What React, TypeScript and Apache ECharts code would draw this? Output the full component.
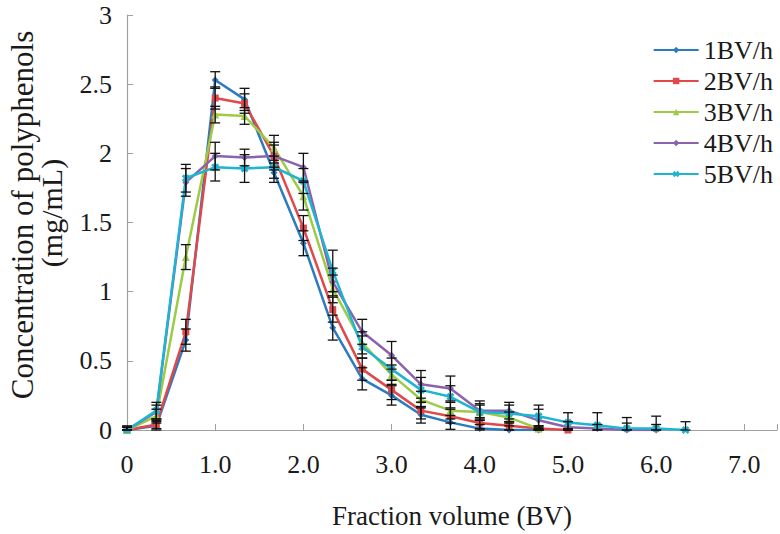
import React, { useEffect, useRef } from "react";
import * as echarts from "echarts";

const fractionBV = [0, 0.333, 0.667, 1.0, 1.333, 1.667, 2.0, 2.333, 2.667, 3.0, 3.333, 3.667, 4.0, 4.333, 4.667, 5.0, 5.333, 5.667, 6.0, 6.333];

const seriesNames = ["1BV/h", "2BV/h", "3BV/h", "4BV/h", "5BV/h"];

const conc1 = [0.0, 0.03, 0.65, 2.53, 2.39, 1.86, 1.35, 0.74, 0.37, 0.25, 0.11, 0.055, 0.01, 0.0, 0.0];
const err1 = [0.02, 0.03, 0.08, 0.06, 0.08, 0.07, 0.09, 0.09, 0.08, 0.07, 0.06, 0.05, 0.03, 0.03, 0.01];

const conc2 = [0.0, 0.04, 0.71, 2.4, 2.36, 1.98, 1.46, 0.87, 0.44, 0.29, 0.14, 0.1, 0.05, 0.03, 0.01, 0.0];
const err2 = [0.02, 0.03, 0.09, 0.08, 0.07, 0.1, 0.09, 0.09, 0.08, 0.07, 0.06, 0.05, 0.04, 0.03, 0.02, 0.01];

const conc3 = [0.0, 0.1, 1.25, 2.28, 2.27, 2.04, 1.69, 1.02, 0.63, 0.4, 0.22, 0.14, 0.13, 0.09, 0.01];
const err3 = [0.02, 0.05, 0.09, 0.06, 0.06, 0.09, 0.1, 0.1, 0.08, 0.07, 0.06, 0.06, 0.05, 0.04, 0.02];

const conc4 = [0.0, 0.13, 1.79, 1.98, 1.97, 1.98, 1.9, 1.07, 0.71, 0.54, 0.33, 0.3, 0.14, 0.14, 0.07, 0.02, 0.01, 0.0, 0.0];
const err4 = [0.02, 0.05, 0.1, 0.1, 0.06, 0.08, 0.1, 0.1, 0.09, 0.1, 0.1, 0.09, 0.07, 0.06, 0.08, 0.04, 0.03, 0.05, 0.04];

const conc5 = [0.0, 0.14, 1.82, 1.9, 1.89, 1.9, 1.8, 1.15, 0.6, 0.44, 0.29, 0.24, 0.13, 0.12, 0.1, 0.055, 0.035, 0.01, 0.01, 0.0];
const err5 = [0.03, 0.06, 0.1, 0.1, 0.1, 0.08, 0.09, 0.15, 0.08, 0.08, 0.09, 0.08, 0.06, 0.06, 0.08, 0.07, 0.09, 0.08, 0.09, 0.06];

const yTicks = [0, 0.5, 1, 1.5, 2, 2.5, 3];

const colors = ["#2a7bc0", "#e0484a", "#9dcb45", "#8b63ad", "#1fb4d2"];
const symbols = [
  "diamond",
  "rect",
  "triangle",
  "diamond",
  "path://M0,1 L1,0 L2,1 L3,0 L4,1 L3,2 L4,3 L3,4 L2,3 L1,4 L0,3 L1,2 Z",
];
const symbolSizes = [7, 7, 8, 7, 8];

const allConc = [conc1, conc2, conc3, conc4, conc5];
const allErr = [err1, err2, err3, err4, err5];

const FONT = "'Liberation Serif', 'Times New Roman', serif";

export default function App() {
  const ref = useRef<HTMLDivElement>(null);

  useEffect(() => {
    if (!ref.current) return;
    const chart = echarts.init(ref.current, undefined, { renderer: "svg" });

    const lineSeries = allConc.map((vals, si) => ({
      name: seriesNames[si],
      type: "line",
      data: vals.map((v, i) => [fractionBV[i], v]),
      symbol: symbols[si],
      symbolSize: symbolSizes[si],
      showSymbol: true,
      lineStyle: { color: colors[si], width: 2.5 },
      itemStyle: { color: colors[si] },
      z: 3,
    }));

    const errSeries = allConc.map((vals, si) => ({
      name: seriesNames[si] + "-err",
      type: "custom",
      z: 4,
      silent: true,
      data: vals.map((v, i) => [fractionBV[i], Math.max(0, v - allErr[si][i]), v + allErr[si][i]]),
      renderItem: (params: any, api: any) => {
        const x = api.value(0);
        const lo = api.coord([x, api.value(1)]);
        const hi = api.coord([x, api.value(2)]);
        const hw = 5;
        const style = { stroke: "#111", lineWidth: 1.3 };
        return {
          type: "group",
          children: [
            { type: "line", shape: { x1: lo[0], y1: lo[1], x2: hi[0], y2: hi[1] }, style },
            { type: "line", shape: { x1: hi[0] - hw, y1: hi[1], x2: hi[0] + hw, y2: hi[1] }, style },
            { type: "line", shape: { x1: lo[0] - hw, y1: lo[1], x2: lo[0] + hw, y2: lo[1] }, style },
          ],
        };
      },
      encode: { x: 0, y: [1, 2] },
    }));

    chart.setOption({
      animation: false,
      backgroundColor: "#ffffff",
      grid: { left: 127, right: 2, top: 15, bottom: 103, containLabel: false },
      legend: {
        data: seriesNames,
        orient: "vertical",
        right: 2,
        top: 32,
        itemWidth: 45,
        itemHeight: 8,
        itemGap: 5,
        textStyle: { fontFamily: FONT, fontSize: 26, color: "#1a1a1a", lineHeight: 26 },
      },
      xAxis: {
        type: "value",
        min: 0,
        max: 7.37,
        interval: 1,
        name: "Fraction volume (BV)",
        nameLocation: "middle",
        nameGap: 72,
        nameTextStyle: { fontFamily: FONT, fontSize: 27, color: "#1a1a1a" },
        axisLine: { show: true, lineStyle: { color: "#a0a0a0", width: 1.2 } },
        axisTick: { show: true, inside: true, length: 6, lineStyle: { color: "#a0a0a0" } },
        splitLine: { show: false },
        axisLabel: {
          fontFamily: FONT,
          fontSize: 26,
          color: "#1a1a1a",
          margin: 21,
          formatter: (v: number) => (v === 0 ? "0" : Number.isInteger(v) ? v.toFixed(1) : ""),
        },
      },
      yAxis: {
        type: "value",
        min: yTicks[0],
        max: yTicks[yTicks.length - 1],
        interval: 0.5,
        axisLine: { show: true, lineStyle: { color: "#a0a0a0", width: 1.2 } },
        axisTick: { show: true, inside: true, length: 6, lineStyle: { color: "#a0a0a0" } },
        splitLine: { show: false },
        axisLabel: { fontFamily: FONT, fontSize: 26, color: "#1a1a1a", margin: 15 },
      },
      graphic: [
        {
          type: "text",
          x: 22,
          y: 215,
          rotation: Math.PI / 2,
          style: {
            text: "Concentration of polyphenols",
            font: `31px ${FONT}`,
            fill: "#1a1a1a",
            textAlign: "center",
            textVerticalAlign: "middle",
          },
        },
        {
          type: "text",
          x: 51,
          y: 213,
          rotation: Math.PI / 2,
          style: {
            text: "(mg/mL)",
            font: `30px ${FONT}`,
            fill: "#1a1a1a",
            textAlign: "center",
            textVerticalAlign: "middle",
          },
        },
      ],
      series: [...lineSeries, ...errSeries],
    });

    return () => chart.dispose();
  }, []);

  return <div ref={ref} style={{ width: 780, height: 534, position: "absolute", left: 0, top: 0 }} />;
}
